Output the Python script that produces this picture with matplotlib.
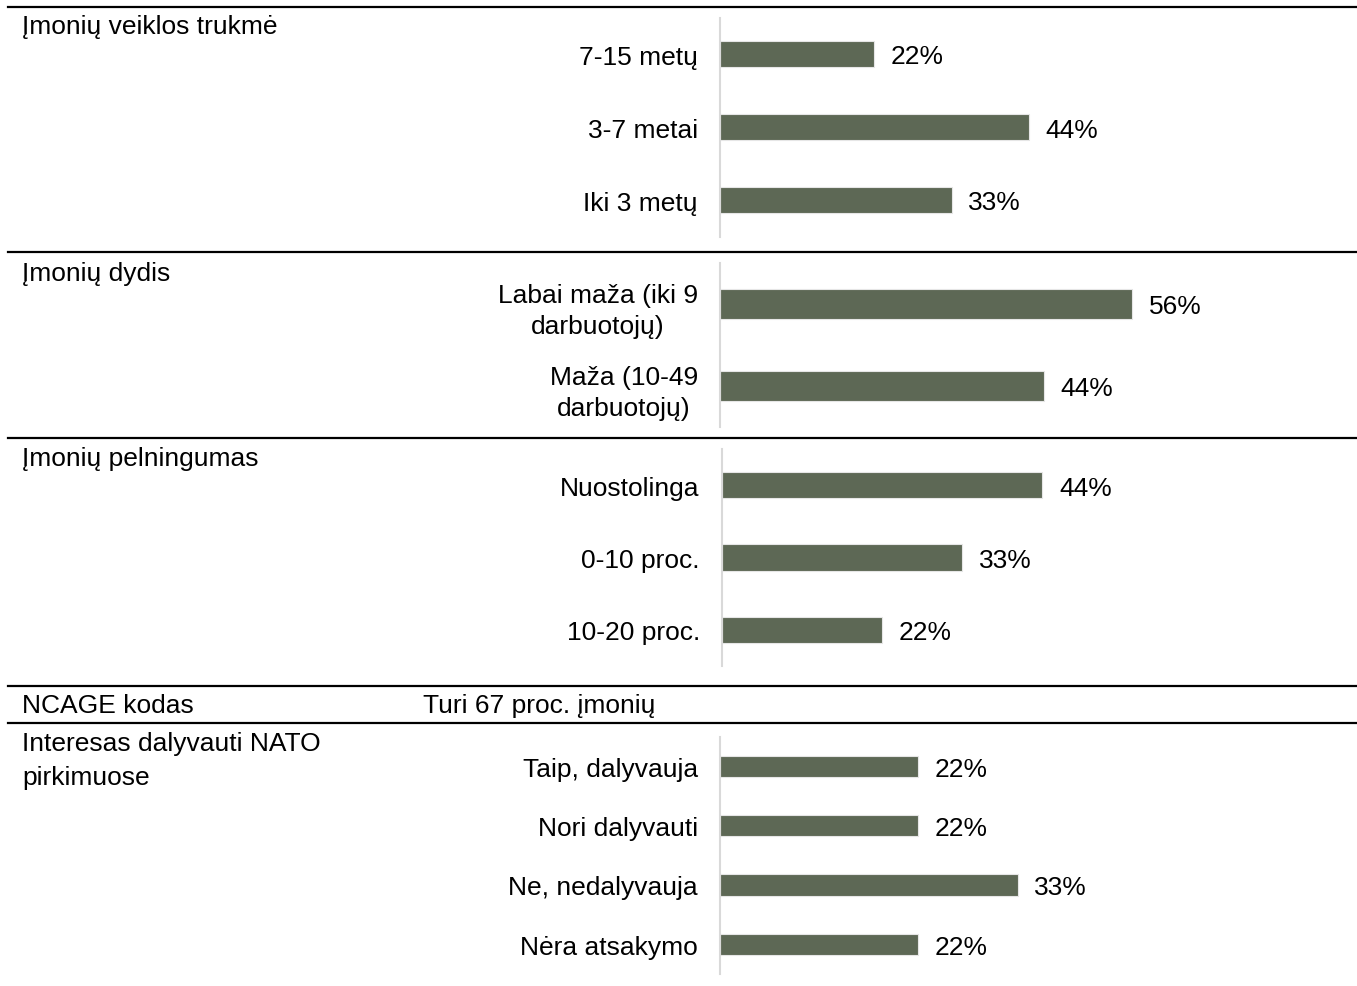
import matplotlib.pyplot as plt
from matplotlib.lines import Line2D

# duomenys
trukme_kat = ["7-15 metų", "3-7 metai", "Iki 3 metų"]
trukme_proc = [22, 44, 33]

dydis_kat = ["Labai maža (iki 9\ndarbuotojų)", "Maža (10-49\ndarbuotojų)"]
dydis_proc = [56, 44]

pelno_kat = ["Nuostolinga", "0-10 proc.", "10-20 proc."]
pelno_proc = [44, 33, 22]

nato_kat = ["Taip, dalyvauja", "Nori dalyvauti", "Ne, nedalyvauja", "Nėra atsakymo"]
nato_proc = [22, 22, 33, 22]

skyriai = ["Įmonių veiklos trukmė", "Įmonių dydis", "Įmonių pelningumas"]
ncage_pav = "NCAGE kodas"
ncage_tekstas = "Turi 67 proc. įmonių"
nato_pav = ["Interesas dalyvauti NATO", "pirkimuose"]

W, H = 1357, 987
spalva = "#5d6855"
plt.rcParams["font.family"] = ["Liberation Sans", "DejaVu Sans"]
plt.rcParams["font.size"] = 19

fig = plt.figure(figsize=(W / 100, H / 100), dpi=100)


def px_ax(x0, y0, x1, y1):
    return fig.add_axes([x0 / W, 1 - y1 / H, (x1 - x0) / W, (y1 - y0) / H])


def juosta(ax, kat, proc, xmax, aukstis=0.36):
    n = len(kat)
    y = list(range(n))
    ax.barh(y, proc, height=aukstis, color=spalva, edgecolor="#e6e6e6", linewidth=0.8)
    ax.set_ylim(n - 0.5, -0.5)
    ax.set_xlim(0, xmax)
    ax.set_yticks(y)
    ax.set_yticklabels(kat, linespacing=1.42)
    for t in ax.get_yticklabels():
        t.set_multialignment("center")
    ax.tick_params(axis="y", length=0, pad=16)
    ax.set_xticks([])
    for s in ["top", "right", "bottom"]:
        ax.spines[s].set_visible(False)
    ax.spines["left"].set_color("#d9d9d9")
    ax.spines["left"].set_linewidth(1.5)
    for yi, v in zip(y, proc):
        ax.annotate(f"{v}%", (v, yi), xytext=(12, 0), textcoords="offset points",
                    ha="left", va="center_baseline")
    ax.patch.set_alpha(0)


juosta(px_ax(720, 18.5, 1340, 237.5), trukme_kat, trukme_proc, 620 / 7.02)
juosta(px_ax(720, 264, 1340, 428), dydis_kat, dydis_proc, 620 / 7.36)
juosta(px_ax(722, 450, 1340, 667), pelno_kat, pelno_proc, 618 / 7.28)
juosta(px_ax(720, 737.5, 1340, 975), nato_kat, nato_proc, 620 / 9.02)

# horizontalios linijos
for yl in [8, 253, 439, 687, 724]:
    fig.add_artist(Line2D([8 / W, 1], [1 - yl / H, 1 - yl / H], color="black", lw=1.6))

# skyrių pavadinimai
for txt, yb in zip(skyriai, [34, 281, 466]):
    fig.text(22 / W, 1 - yb / H, txt, va="baseline", ha="left")
fig.text(22 / W, 1 - 713 / H, ncage_pav, va="baseline", ha="left")
fig.text(423 / W, 1 - 713 / H, ncage_tekstas, va="baseline", ha="left")
fig.text(22 / W, 1 - 751 / H, nato_pav[0], va="baseline", ha="left")
fig.text(22 / W, 1 - 785 / H, nato_pav[1], va="baseline", ha="left")

fig.savefig("out.png", dpi=100)
